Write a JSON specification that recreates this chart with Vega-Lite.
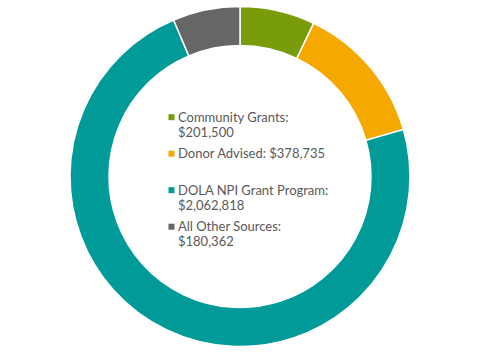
{
  "$schema": "https://vega.github.io/schema/vega-lite/v6.json",
  "autosize": {"type": "fit", "contains": "padding"},
  "width": 480,
  "height": 353,
  "padding": 0,
  "background": "white",
  "config": {"view": {"stroke": null}},
  "data": {
    "values": [
      {"idx": 1, "source": "Community Grants", "amount": 201500, "label": "Community Grants:|$201,500"},
      {"idx": 2, "source": "Donor Advised", "amount": 378735, "label": "Donor Advised: $378,735| "},
      {"idx": 3, "source": "DOLA NPI Grant Program", "amount": 2062818, "label": "DOLA NPI Grant Program:|$2,062,818"},
      {"idx": 4, "source": "All Other Sources", "amount": 180362, "label": "All Other Sources:|$180,362"}
    ]
  },
  "mark": {"type": "arc", "outerRadius": 170, "innerRadius": 131, "stroke": "white", "strokeWidth": 1.5},
  "encoding": {
    "theta": {"field": "amount", "type": "quantitative", "stack": true},
    "order": {"field": "idx", "type": "quantitative"},
    "color": {
      "field": "label",
      "type": "nominal",
      "sort": null,
      "scale": {
        "domain": ["Community Grants:|$201,500", "Donor Advised: $378,735| ", "DOLA NPI Grant Program:|$2,062,818", "All Other Sources:|$180,362"],
        "range": ["#789c0a", "#f5a800", "#009b98", "#666666"]
      },
      "legend": {
        "orient": "none",
        "legendX": 165,
        "legendY": 105,
        "title": null,
        "symbolType": "M-1,0.9H1V2.9H-1Z",
        "symbolSize": 36,
        "symbolStrokeWidth": 0,
        "labelExpr": "split(datum.label, '|')",
        "labelFont": "Lato",
        "labelFontSize": 13,
        "labelColor": "#595959",
        "labelLimit": 300,
        "labelOffset": 0,
        "labelBaseline": "top",
        "labelLineHeight": 16,
        "rowPadding": 1.5
      }
    }
  }
}
